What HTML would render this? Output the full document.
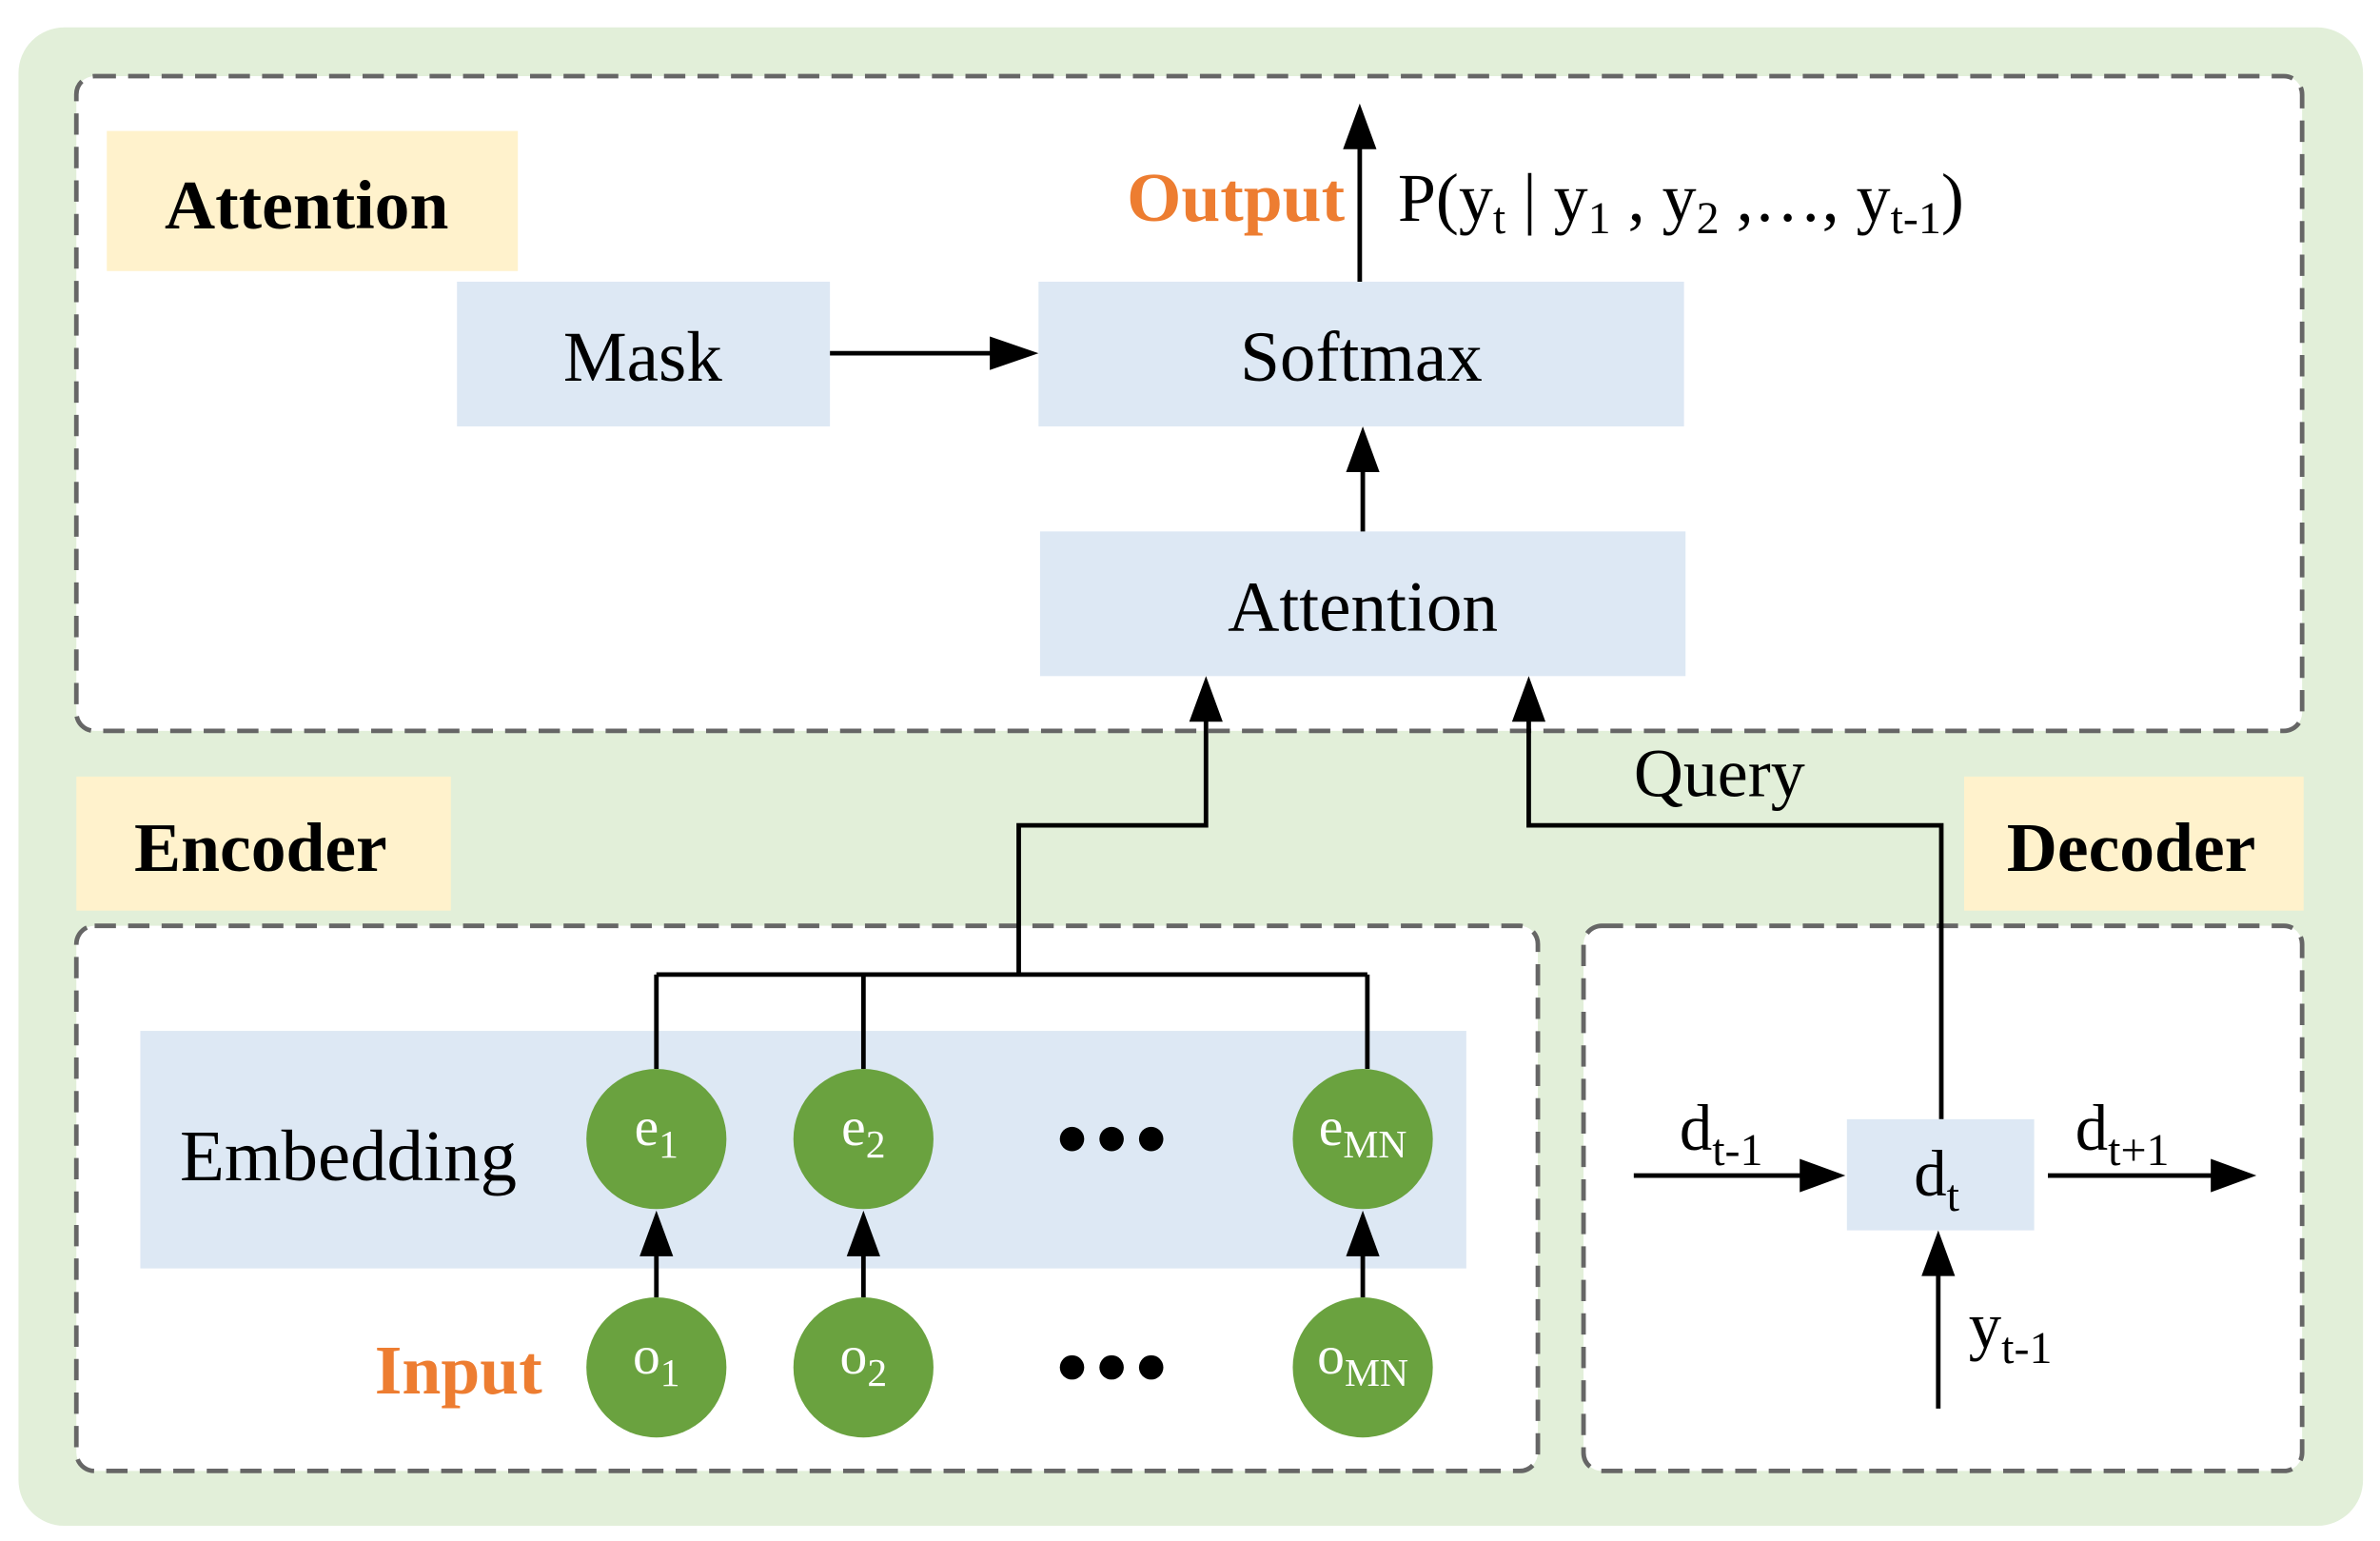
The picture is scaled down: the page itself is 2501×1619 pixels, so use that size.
<!DOCTYPE html>
<html><head><meta charset="utf-8">
<style>
html,body{margin:0;padding:0;background:#fff;}
svg{display:block;}
text{font-family:"Liberation Serif",serif;}
</style></head>
<body>
<svg width="2501" height="1619" viewBox="0 0 1563 1012" xmlns="http://www.w3.org/2000/svg">
<rect x="12" y="18" width="1540" height="984" rx="30" fill="#e2efd9"/>
<rect x="50" y="50" width="1462" height="430" rx="12" fill="#fff" stroke="#666" stroke-width="3" stroke-dasharray="14,8"/>
<rect x="50" y="608" width="960" height="358" rx="12" fill="#fff" stroke="#666" stroke-width="3" stroke-dasharray="14,8"/>
<rect x="1040" y="608" width="472" height="358" rx="12" fill="#fff" stroke="#666" stroke-width="3" stroke-dasharray="14,8"/>

<rect x="70" y="86" width="270" height="92" fill="#fff2cc"/>
<text x="108" y="150" font-size="46" font-weight="bold">Attention</text>
<rect x="50" y="510" width="246" height="88" fill="#fff2cc"/>
<text x="88" y="572" font-size="46" font-weight="bold">Encoder</text>
<rect x="1290" y="510" width="223" height="88" fill="#fff2cc"/>
<text x="1318" y="572" font-size="46" font-weight="bold">Decoder</text>

<rect x="300" y="185" width="245" height="95" fill="#dde8f4"/>
<text x="422" y="250" font-size="47" text-anchor="middle">Mask</text>
<rect x="682" y="185" width="424" height="95" fill="#dde8f4"/>
<text x="894" y="250" font-size="47" text-anchor="middle">Softmax</text>
<rect x="683" y="349" width="424" height="95" fill="#dde8f4"/>
<text x="895" y="414" font-size="47" text-anchor="middle">Attention</text>

<rect x="92" y="677" width="871" height="156" fill="#dde8f4"/>
<text x="118" y="775" font-size="48">Embedding</text>

<g stroke="#000" stroke-width="3" fill="none">
<line x1="545" y1="232" x2="655" y2="232"/>
<line x1="895" y1="349" x2="895" y2="305"/>
<line x1="893" y1="185" x2="893" y2="95"/>
<polyline points="669,640 669,542 792,542 792,470"/>
<polyline points="1275,735 1275,542 1004,542 1004,470"/>
<line x1="431" y1="640" x2="898" y2="640"/>
<line x1="431" y1="640" x2="431" y2="702"/>
<line x1="567" y1="640" x2="567" y2="702"/>
<line x1="898" y1="640" x2="898" y2="702"/>
<line x1="431" y1="852" x2="431" y2="820"/>
<line x1="567" y1="852" x2="567" y2="820"/>
<line x1="895" y1="852" x2="895" y2="820"/>
<line x1="1073" y1="772" x2="1185" y2="772"/>
<line x1="1345" y1="772" x2="1455" y2="772"/>
<line x1="1273" y1="925" x2="1273" y2="835"/>
</g>
<g fill="#000">
<polygon points="682,232 650,221 650,243"/>
<polygon points="895,280 884,310 906,310"/>
<polygon points="893,68 882,98 904,98"/>
<polygon points="792,444 781,474 803,474"/>
<polygon points="1004,444 993,474 1015,474"/>
<polygon points="431,795 420,825 442,825"/>
<polygon points="567,795 556,825 578,825"/>
<polygon points="895,795 884,825 906,825"/>
<polygon points="1212,772 1182,761 1182,783"/>
<polygon points="1482,772 1452,761 1452,783"/>
<polygon points="1273,808 1262,838 1284,838"/>
</g>

<text x="740" y="145" font-size="46" font-weight="bold" fill="#ed7d31">Output</text>
<text x="918" y="145" font-size="45">P(y<tspan font-size="30" dy="8">t</tspan><tspan dy="-8"> | y</tspan><tspan font-size="30" dy="8">1</tspan><tspan dy="-8"> , y</tspan><tspan font-size="30" dy="8">2</tspan><tspan dy="-8"> ,…, y</tspan><tspan font-size="30" dy="8">t-1</tspan><tspan dy="-8">)</tspan></text>
<text x="1073" y="523" font-size="45">Query</text>

<g fill="#6aa23f">
<circle cx="431" cy="748" r="46"/><circle cx="567" cy="748" r="46"/><circle cx="895" cy="748" r="46"/>
<circle cx="431" cy="898" r="46"/><circle cx="567" cy="898" r="46"/><circle cx="895" cy="898" r="46"/>
</g>
<g fill="#000">
<circle cx="704" cy="748" r="8"/><circle cx="730" cy="748" r="8"/><circle cx="756" cy="748" r="8"/>
<circle cx="704" cy="898" r="8"/><circle cx="730" cy="898" r="8"/><circle cx="756" cy="898" r="8"/>
</g>
<g fill="#fff" font-size="36" text-anchor="middle">
<text x="431" y="752">e<tspan font-size="26" dy="8">1</tspan></text>
<text x="567" y="752">e<tspan font-size="26" dy="8">2</tspan></text>
<text x="895" y="752">e<tspan font-size="26" dy="8">MN</tspan></text>
<text x="431" y="902">o<tspan font-size="26" dy="8">1</tspan></text>
<text x="567" y="902">o<tspan font-size="26" dy="8">2</tspan></text>
<text x="895" y="902">o<tspan font-size="26" dy="8">MN</tspan></text>
</g>
<text x="246" y="915" font-size="46" font-weight="bold" fill="#ed7d31">Input</text>

<rect x="1213" y="735" width="123" height="73" fill="#dde8f4"/>
<text x="1257" y="785" font-size="43">d<tspan font-size="30" dy="10">t</tspan></text>
<text x="1103" y="755" font-size="43">d<tspan font-size="30" dy="10">t-1</tspan></text>
<text x="1363" y="755" font-size="43">d<tspan font-size="30" dy="10">t+1</tspan></text>
<text x="1293" y="885" font-size="43">y<tspan font-size="30" dy="10">t-1</tspan></text>
</svg>
</body></html>
